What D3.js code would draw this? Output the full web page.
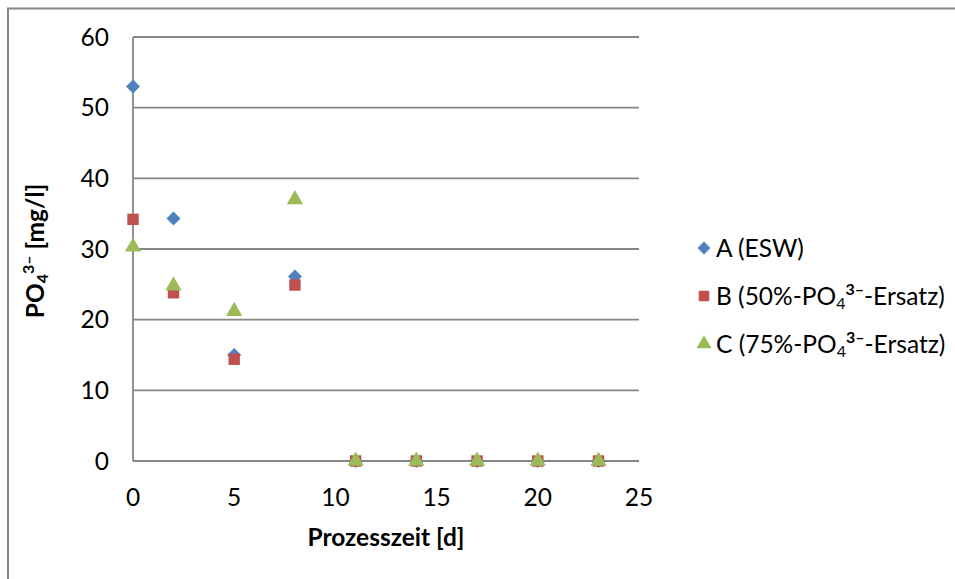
<!DOCTYPE html>
<html>
<head>
<meta charset="utf-8">
<script src="https://cdn.jsdelivr.net/npm/d3@7/dist/d3.min.js"></script>
<style>
  html, body { margin: 0; padding: 0; background: #fff; }
  svg { display: block; font-family: Lato, "Open Sans", sans-serif; }
</style>
</head>
<body>
<svg id="chart" width="955" height="579"></svg>
<script>
// Process time in days (x) for all series
const days = [0, 2, 5, 8, 11, 14, 17, 20, 23];
// Phosphate concentration [mg/l] per series
const seriesA = [53.0, 34.3, 15.0, 26.1, 0, 0, 0, 0, 0];
const seriesB = [34.2, 23.8, 14.4, 24.9, 0, 0, 0, 0, 0];
const seriesC = [30.3, 24.8, 21.2, 37.0, 0, 0, 0, 0, 0];
const xTicks = [0, 5, 10, 15, 20, 25];
const yTicks = [0, 10, 20, 30, 40, 50, 60];

const svg = d3.select("#chart");
const plot = { left: 133, right: 639, top: 37, bottom: 461 };
const x = d3.scaleLinear().domain([0, 25]).range([plot.left, plot.right]);
const y = d3.scaleLinear().domain([0, 60]).range([plot.bottom, plot.top]);
const gridColor = "#868686";
const fs = 24.5;
const fsSmall = 16;

// outer frame (left and top edges)
svg.append("path")
  .attr("d", "M8,579 L8,8.5 L955,8.5")
  .attr("fill", "none").attr("stroke", gridColor).attr("stroke-width", 2);

// horizontal gridlines
svg.append("g").selectAll("line").data(yTicks).join("line")
  .attr("x1", plot.left).attr("x2", plot.right)
  .attr("y1", d => y(d)).attr("y2", d => y(d))
  .attr("stroke", gridColor).attr("stroke-width", 1.8);

// y axis line
svg.append("line")
  .attr("x1", x(0)).attr("x2", x(0))
  .attr("y1", plot.top).attr("y2", plot.bottom)
  .attr("stroke", gridColor).attr("stroke-width", 1.8);

// y tick labels
svg.append("g").selectAll("text").data(yTicks).join("text")
  .attr("x", 109).attr("y", d => y(d))
  .attr("dy", "0.36em").attr("text-anchor", "end")
  .attr("font-size", fs).attr("fill", "#000")
  .text(d => d);

// x tick labels
svg.append("g").selectAll("text").data(xTicks).join("text")
  .attr("x", d => x(d)).attr("y", 506)
  .attr("text-anchor", "middle")
  .attr("font-size", fs).attr("fill", "#000")
  .text(d => d);

// axis titles
svg.append("text")
  .attr("x", 386).attr("y", 546)
  .attr("text-anchor", "middle")
  .attr("font-size", fs).attr("font-weight", "bold")
  .text("Prozesszeit [d]");

const yTitle = svg.append("text")
  .attr("transform", "translate(44,251) rotate(-90)")
  .attr("text-anchor", "middle")
  .attr("font-size", fs).attr("font-weight", "bold");
yTitle.append("tspan").text("PO");
yTitle.append("tspan").attr("font-size", fsSmall).attr("dy", 4).text("4");
yTitle.append("tspan").attr("font-size", fsSmall).attr("dy", -14).text("3\u2013");
yTitle.append("tspan").attr("dy", 10).text(" [mg/l]");

// marker symbols
const markers = [
  { values: seriesA, color: "#4F81BD", sym: d3.symbolDiamond2, size: 125 },
  { values: seriesB, color: "#C0504D", sym: d3.symbolSquare, size: 130 },
  { values: seriesC, color: "#9BBB59", sym: d3.symbolTriangle, size: 115 }
];

markers.forEach(m => {
  const gen = d3.symbol().type(m.sym).size(m.size);
  svg.append("g").selectAll("path").data(days.map((d, i) => [d, m.values[i]])).join("path")
    .attr("transform", d => `translate(${x(d[0])},${y(d[1])})`)
    .attr("d", gen())
    .attr("fill", m.color);
});

// legend
const legendY = [248, 296, 344];
const lg = svg.append("g");
markers.forEach((m, i) => {
  lg.append("path")
    .attr("transform", `translate(704,${legendY[i]})`)
    .attr("d", d3.symbol().type(m.sym).size(m.size * 0.85)())
    .attr("fill", m.color);
});
const legendLabels = [
  [["A (ESW)", 0]],
  [["B (50%-PO", 0], ["4", 1], ["3\u2013", 2], ["-Ersatz)", 3]],
  [["C (75%-PO", 0], ["4", 1], ["3\u2013", 2], ["-Ersatz)", 3]]
];
legendLabels.forEach((parts, i) => {
  const t = lg.append("text")
    .attr("x", 716).attr("y", legendY[i]).attr("dy", "0.36em")
    .attr("font-size", fs).attr("fill", "#000");
  parts.forEach(([s, kind]) => {
    const sp = t.append("tspan").text(s);
    if (kind === 1) sp.attr("font-size", fsSmall).attr("dy", 4);
    if (kind === 2) sp.attr("font-size", fsSmall).attr("font-weight", "bold").attr("dy", -14);
    if (kind === 3) sp.attr("dy", 10);
  });
});
</script>
</body>
</html>
